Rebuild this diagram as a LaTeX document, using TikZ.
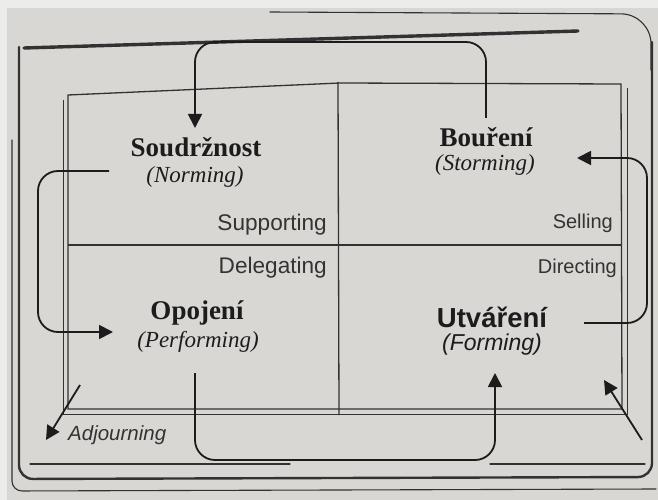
\documentclass[tikz,border=0pt]{standalone}
\usepackage{fontspec}
\setmainfont{Liberation Serif}
\setsansfont{Liberation Sans}
\usetikzlibrary{arrows.meta}
\definecolor{paper}{RGB}{216,215,211}
\definecolor{margin}{RGB}{236,236,234}
\definecolor{ink}{RGB}{28,28,28}
\definecolor{framecol}{RGB}{50,50,50}
\tikzset{
  title/.style={font=\fontsize{27}{30}\selectfont\bfseries, text=ink, inner sep=0pt},
  subtitle/.style={font=\fontsize{23}{26}\selectfont\itshape, text=ink, inner sep=0pt},
  sanstitle/.style={font=\sffamily\bfseries\fontsize{27.5}{30}\selectfont, text=ink, inner sep=0pt},
  sanssub/.style={font=\sffamily\itshape\fontsize{23}{26}\selectfont, text=ink, inner sep=0pt},
  stylelabel/.style={text=ink!90, inner sep=0pt, anchor=east},
  biglabel/.style={stylelabel, font=\sffamily\fontsize{22.6}{25}\selectfont},
  smalllabel/.style={stylelabel, font=\sffamily\fontsize{20}{24}\selectfont},
  italiclabel/.style={font=\sffamily\itshape\fontsize{20.5}{24}\selectfont, text=ink!90, inner sep=0pt},
  flow/.style={draw=ink, line width=1.8pt, rounded corners=20pt, -{Triangle[length=14pt,width=14pt]}},
  straightflow/.style={draw=ink, line width=1.8pt, -{Triangle[length=14pt,width=14pt]}},
  frameline/.style={draw=framecol, line width=2.4pt, line cap=round},
  thinframe/.style={draw=framecol, line width=1.1pt, line cap=round},
  boxline/.style={draw=framecol, line width=1.3pt},
}
\begin{document}
\begin{tikzpicture}[x=1pt,y=-1pt]
\fill[margin] (0,0) rectangle (658,500);
\fill[paper] (7,8) rectangle (658,500);
\useasboundingbox (0,0) rectangle (658,500);

% outer frame
\draw[frameline, rounded corners=14pt] (19,47) -- (19,479) -- (652,477) -- (652,42);
\draw[frameline, line width=3.4pt] (24,48) -- (578,31);
\draw[thinframe, rounded corners=30pt] (270,12) -- (651,14) -- (651,70);
\draw[thinframe, rounded corners=10pt] (12,140) -- (12,491) -- (656,489);
\draw[thinframe] (30,464) -- (290,464);
\draw[thinframe] (490,464) -- (645,464);

% inner grid box
\draw[boxline] (68,95) -- (340,83) -- (621,84) -- (622,409) -- (68,409) -- cycle;
\draw[boxline, line width=0.9pt] (63,100) -- (63,414) -- (627,414) -- (627,88);
\draw[boxline] (338,82) -- (339,415);
\draw[boxline] (68,245) -- (622,245);

% texts
\node[title] (soud) at (196,147) {Soudržnost};
\node[subtitle] (norm) at (195,177) {(Norming)};
\node[title] (bour) at (486,137) {Bouření};
\node[subtitle] (storm) at (485,165) {(Storming)};
\node[title] (opoj) at (197,313) {Opojení};
\node[subtitle] (perf) at (198,342) {(Performing)};
\node[sanstitle] (utv) at (492,317) {Utváření};
\node[sanssub] (form) at (492,345) {(Forming)};
\node[biglabel] (supp) at (327,225) {Supporting};
\node[smalllabel] (sell) at (613,223) {Selling};
\node[biglabel] (dele) at (327,268) {Delegating};
\node[smalllabel] (dire) at (617,268) {Directing};
\node[italiclabel, anchor=west] (adj) at (68,435) {Adjourning};

% arrow end points
\coordinate (a1s) at (486,118);
\coordinate (a1e) at (195,128);
\coordinate (a2s) at (109,171);
\coordinate (a2e) at (113,332);
\coordinate (a3s) at (195,373);
\coordinate (a3e) at (495,373);
\coordinate (a4s) at (584,323);
\coordinate (a4e) at (577,158);
\coordinate (a5s) at (642,440);
\coordinate (a5e) at (604,380);
\coordinate (a6s) at (80,385);
\coordinate (a6e) at (46,440);

% arrows
\draw[flow] (a1s) -- ++(0,-76) -| (a1e);
\draw[flow] (a2s) -- ++(-71,0) |- (a2e);
\draw[flow] (a3s) -- ++(0,87) -| (a3e);
\draw[flow] (a4s) -- ++(63,0) |- (a4e);
\draw[straightflow] (a5s) -- (a5e);
\draw[straightflow] (a6s) -- (a6e);
\end{tikzpicture}
\end{document}
